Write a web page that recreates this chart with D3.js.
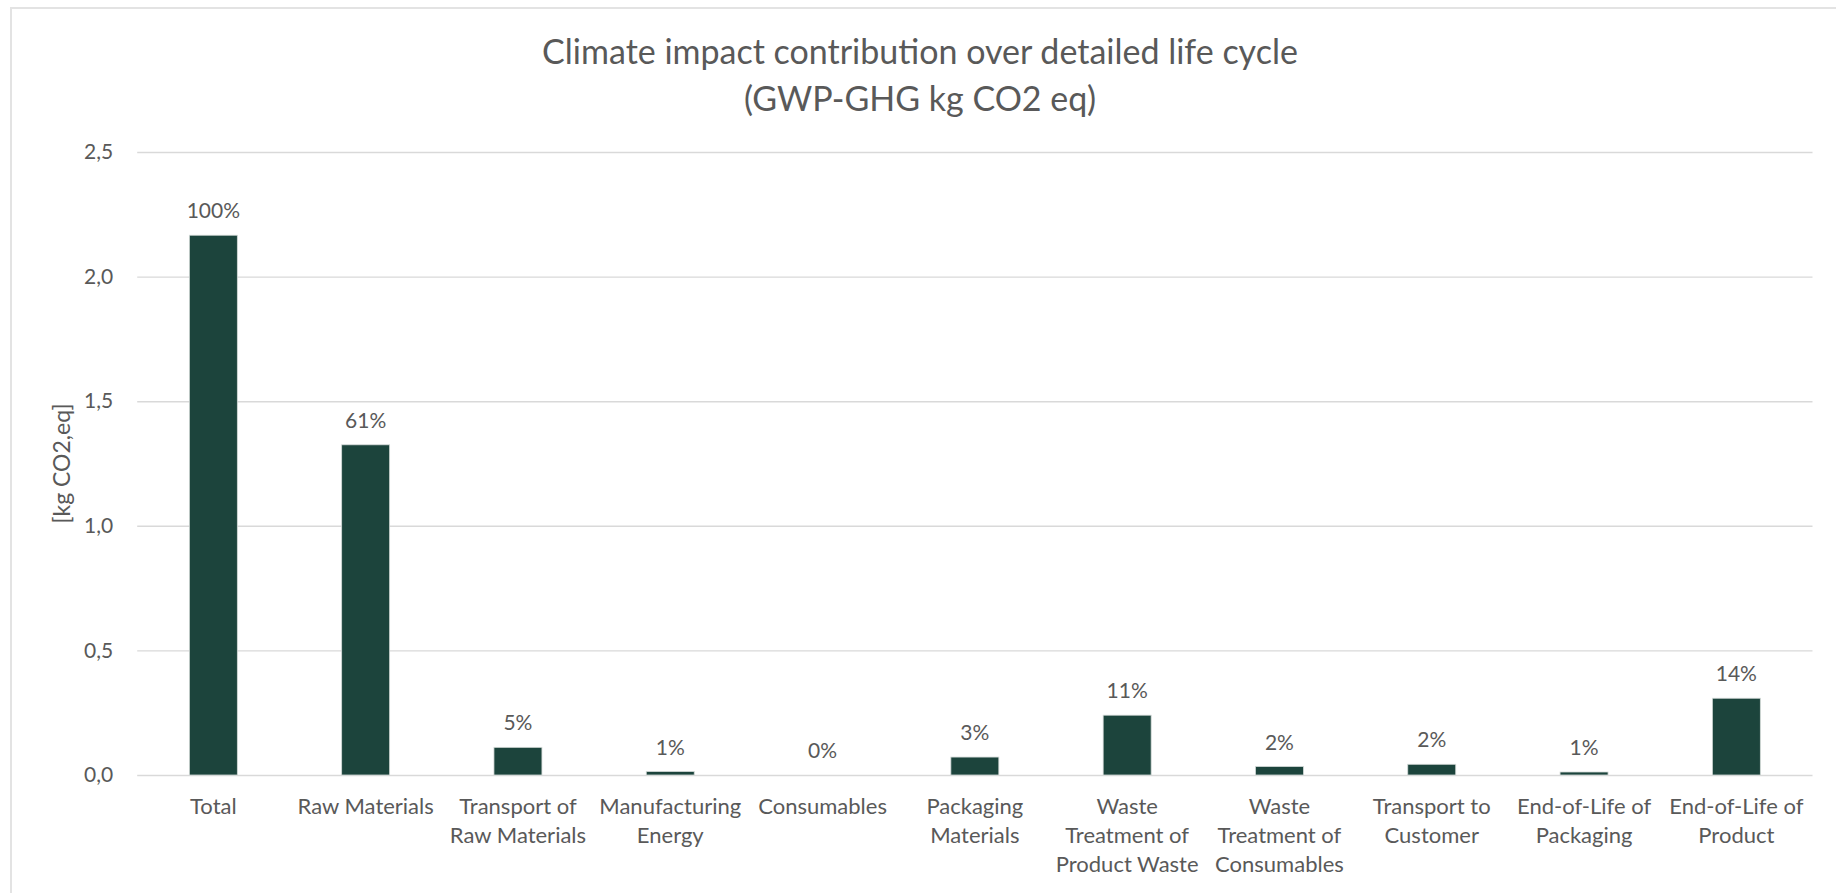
<!DOCTYPE html>
<html>
<head>
<meta charset="utf-8">
<script src="https://cdn.jsdelivr.net/npm/d3@7"></script>
<style>
  html, body { margin: 0; padding: 0; background: #ffffff; }
  svg { display: block; }
  text { font-family: Lato, "Open Sans", sans-serif; }
</style>
</head>
<body>
<svg id="chart" width="1836" height="893"></svg>
<script>
// Life-cycle stages (line breaks mark where each axis label wraps)
const categories = [
  "Total",
  "Raw Materials",
  "Transport of\nRaw Materials",
  "Manufacturing\nEnergy",
  "Consumables",
  "Packaging\nMaterials",
  "Waste\nTreatment of\nProduct Waste",
  "Waste\nTreatment of\nConsumables",
  "Transport to\nCustomer",
  "End-of-Life of\nPackaging",
  "End-of-Life of\nProduct"
];

// Climate impact per stage, kg CO2 eq
const values = [2.166, 1.325, 0.111, 0.014, 0.0, 0.072, 0.240, 0.034, 0.043, 0.012, 0.308];

// Value axis ticks
const yTicks = [0, 0.5, 1.0, 1.5, 2.0, 2.5];

const titleLines = ["Climate impact contribution over detailed life cycle", "(GWP-GHG kg CO2 eq)"];
const yAxisTitle = "[kg CO2,eq]";

const svg = d3.select("#chart");
const textColor = "#595959";
const barColor = "#1c443c";
const gridColor = "#d9d9d9";

// Chart frame
svg.append("rect")
  .attr("x", 11).attr("y", 8)
  .attr("width", 1900).attr("height", 1000)
  .attr("fill", "#ffffff")
  .attr("stroke", "#e3e3e3")
  .attr("stroke-width", 2);

const plot = { left: 137.2, right: 1812.5, top: 152, bottom: 775 };

const x = d3.scaleBand()
  .domain(d3.range(categories.length))
  .range([plot.left, plot.right])
  .paddingInner(0.685)
  .paddingOuter(0.3425);

const y = d3.scaleLinear()
  .domain([0, 2.5])
  .range([plot.bottom, plot.top]);

// Title
svg.append("text")
  .attr("x", 920)
  .attr("text-anchor", "middle")
  .attr("fill", textColor)
  .style("font-size", "34px")
  .selectAll("tspan")
  .data(titleLines)
  .join("tspan")
  .attr("x", 920)
  .attr("y", (d, i) => 64 + i * 47)
  .text(d => d);

// Horizontal gridlines and value-axis labels
const yAxis = svg.append("g")
  .attr("transform", `translate(${plot.left},0)`)
  .call(d3.axisLeft(y)
    .tickValues(yTicks)
    .tickSize(-(plot.right - plot.left))
    .tickPadding(24)
    .tickFormat(d => d3.format(".1f")(d).replace(".", ",")));
yAxis.select(".domain").remove();
yAxis.selectAll(".tick line")
  .attr("stroke", gridColor)
  .attr("stroke-width", 1.4);
yAxis.selectAll(".tick text")
  .attr("fill", textColor)
  .style("font-size", "21px")
  .style("font-family", "Lato, sans-serif");

// Value-axis title
svg.append("text")
  .attr("transform", `translate(70,${(plot.top + plot.bottom) / 2}) rotate(-90)`)
  .attr("text-anchor", "middle")
  .attr("fill", textColor)
  .style("font-size", "23px")
  .text(yAxisTitle);

// Bars
svg.append("g")
  .selectAll("rect")
  .data(values)
  .join("rect")
  .attr("x", (d, i) => x(i))
  .attr("y", d => y(d))
  .attr("width", x.bandwidth())
  .attr("height", d => y(0) - y(d))
  .attr("fill", barColor)
  .attr("stroke", "#d3d9d7")
  .attr("stroke-width", 0.8);

// Share of total above each bar
const total = values[0];
const pct = d3.format(".0%");
svg.append("g")
  .selectAll("text")
  .data(values)
  .join("text")
  .attr("x", (d, i) => x(i) + x.bandwidth() / 2)
  .attr("y", d => y(d) - 17)
  .attr("text-anchor", "middle")
  .attr("fill", textColor)
  .style("font-size", "21px")
  .text(d => pct(d / total));

// Category axis labels
const xAxis = svg.append("g")
  .attr("transform", `translate(0,${plot.bottom})`)
  .call(d3.axisBottom(x).tickSize(0).tickFormat(""));
xAxis.select(".domain").remove();
xAxis.selectAll(".tick")
  .append("text")
  .attr("text-anchor", "middle")
  .attr("fill", textColor)
  .style("font-size", "22px")
  .style("font-family", "Lato, sans-serif")
  .selectAll("tspan")
  .data(i => categories[i].split("\n"))
  .join("tspan")
  .attr("x", 0)
  .attr("y", (d, j) => 39 + j * 29)
  .text(d => d);
</script>
</body>
</html>
